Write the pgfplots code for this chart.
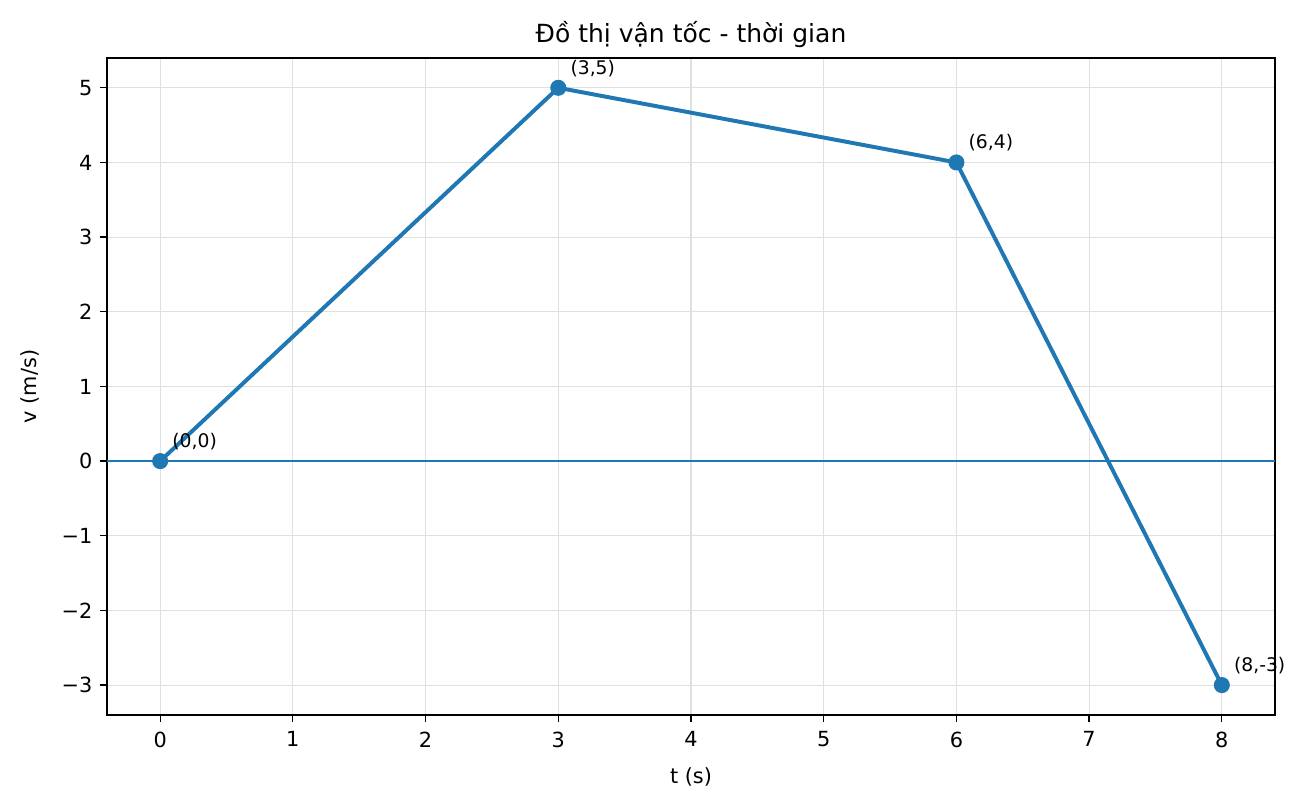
\documentclass[border=0pt]{standalone}
\usepackage{pgfplots}
\pgfplotsset{compat=1.18}
\usepackage{fontspec}
\setmainfont{DejaVu Sans}
\definecolor{c0}{HTML}{1F77B4}
\begin{document}
\begin{tikzpicture}[x=1pt,y=1pt]
\useasboundingbox (0,0) rectangle (627.4,388.3);
\begin{axis}[
  at={(51.4pt,45.1pt)}, anchor=south west,
  width=560.6pt, height=315.4pt, scale only axis,
  xmin=-0.4, xmax=8.4, ymin=-3.4, ymax=5.4,
  xtick={0,1,...,8}, ytick={-3,-2,-1,0,1,2,3,4,5},
  yticklabels={−3,−2,−1,0,1,2,3,4,5},
  grid=major, major grid style={black!12, line width=0.5pt},
  axis line style={line width=0.6pt},
  tick style={black, line width=0.6pt},
  tick align=outside, major tick length=3.5pt,
  xtick pos=bottom, ytick pos=left,
  /pgf/number format/assume math mode=true,
  ticklabel style={font=\fontsize{10}{12}\selectfont},
  xticklabel style={yshift=-1pt},
  xlabel={t (s)}, ylabel={v (m/s)},
  xlabel style={yshift=-3pt},
  ylabel style={yshift=4pt},
  label style={font=\fontsize{10}{12}\selectfont},
  title={Đồ thị vận tốc - thời gian},
  title style={font=\fontsize{12}{14}\selectfont, yshift=-4.5pt},
  clip=false,
]
\addplot[c0, line width=1.2pt, forget plot] coordinates {(-0.4,0) (8.4,0)};
\addplot[c0, line width=1.9pt, mark=*, mark size=3.6pt, mark options={solid, fill=c0, draw=c0, line width=0.5pt},
  nodes near coords, point meta=explicit symbolic,
  every node near coord/.style={font=\fontsize{9}{10}\selectfont, anchor=base west, xshift=2.3pt, yshift=6.5pt, text=black}]
  table[meta=lab] {
x y lab
0 0 (0,0)
3 5 (3,5)
6 4 (6,4)
8 -3 (8,-3)
};
\end{axis}
\end{tikzpicture}
\end{document}
